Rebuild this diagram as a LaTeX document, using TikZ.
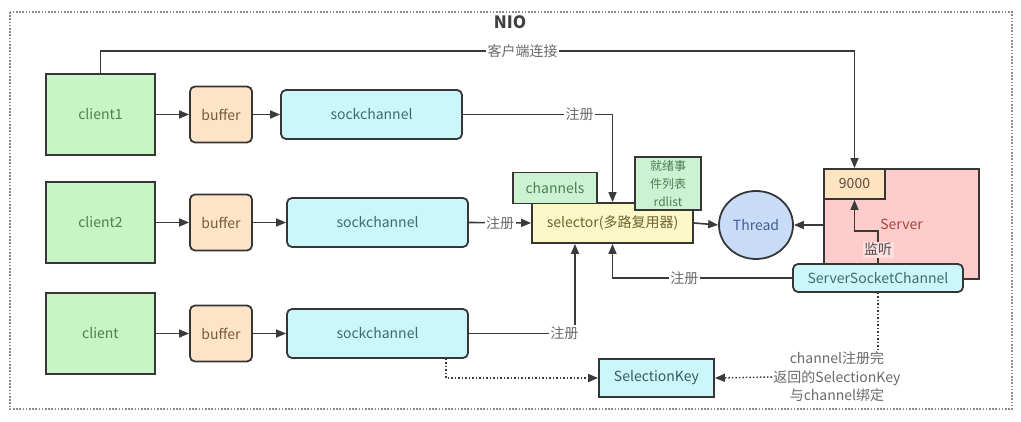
\documentclass[tikz,border=0pt]{standalone}
\usepackage{fontspec}
\setmainfont{Noto Sans CJK SC}
\usetikzlibrary{arrows.meta,shapes.geometric}
\definecolor{boxline}{HTML}{363636}
\definecolor{linec}{HTML}{3A3A3A}
\definecolor{lbltext}{HTML}{6A6A6A}
\definecolor{clientfill}{HTML}{C8F4C6}
\definecolor{clienttext}{HTML}{4E7F4E}
\definecolor{bufferfill}{HTML}{FDE3C8}
\definecolor{buffertext}{HTML}{7A5C3C}
\definecolor{sockfill}{HTML}{CBF7FB}
\definecolor{socktext}{HTML}{3F6A70}
\definecolor{selfill}{HTML}{FDF8C8}
\definecolor{seltext}{HTML}{6B6532}
\definecolor{listfill}{HTML}{CCF2D2}
\definecolor{listtext}{HTML}{4C7F55}
\definecolor{threadfill}{HTML}{C9DCF7}
\definecolor{threadtext}{HTML}{3F5F8F}
\definecolor{serverfill}{HTML}{FFCCCC}
\definecolor{servertext}{HTML}{A0453F}
\definecolor{portfill}{HTML}{FDE3C0}
\definecolor{porttext}{HTML}{5A4A3A}
\definecolor{framec}{HTML}{8A8A8A}

\begin{document}
\begin{tikzpicture}[x=1pt,y=-1pt,
  box/.style={draw=boxline,line width=1.8pt,inner sep=0pt,font=\fontsize{14}{17}\selectfont},
  client/.style={box,fill=clientfill,text=clienttext,minimum width=109pt,minimum height=81pt},
  buffer/.style={box,rounded corners=5pt,fill=bufferfill,text=buffertext,minimum width=62pt,minimum height=56pt},
  sock/.style={box,rounded corners=5pt,fill=sockfill,text=socktext,minimum width=181pt,minimum height=49pt},
  listbox/.style={box,fill=listfill,text=listtext},
  conn/.style={draw=linec,line width=1.6pt,-{Triangle[length=10pt,width=8pt]}},
  dotconn/.style={conn,line width=1.5pt,dash pattern=on 1.5pt off 2pt},
  lbl/.style={fill=white,text=lbltext,inner sep=1.5pt,font=\fontsize{14}{17}\selectfont}]
\useasboundingbox (0,0) rectangle (1021,422);
\draw[framec,line width=1.6pt,dash pattern=on 1.6pt off 1.6pt] (10,12) rectangle (1012,409);
\node[font=\bfseries\fontsize{17}{20}\selectfont,text=black!75] (title) at (510,22) {NIO};

\node[client] (client1) at (100.5,114.5) {client1};
\node[client] (client2) at (100.5,222.5) {client2};
\node[client] (client3) at (100.5,333.5) {client};
\node[buffer] (buf1) at (221,114.5) {buffer};
\node[buffer] (buf2) at (221,222.5) {buffer};
\node[buffer] (buf3) at (221,333.5) {buffer};
\node[sock] (sock1) at (371.5,114.5) {sockchannel};
\node[sock] (sock2) at (377.5,222.5) {sockchannel};
\node[sock] (sock3) at (377.5,333.5) {sockchannel};

\node[box,fill=selfill,text=seltext,minimum width=161pt,minimum height=40pt] (sel) at (612.5,223) {selector(多路复用器)};
\node[listbox,minimum width=84pt,minimum height=31pt] (chans) at (555,188) {channels};
\node[listbox,minimum width=66pt,minimum height=53pt,align=center,font=\fontsize{12}{18}\selectfont] (rdlist) at (668,183.5) {就绪事\\件列表\\rdlist};

\node[box,ellipse,fill=threadfill,text=threadtext,minimum width=74pt,minimum height=68pt] (thread) at (756,225) {Thread};
\node[box,fill=serverfill,text=servertext,minimum width=155pt,minimum height=110pt] (server) at (901.5,224) {Server};
\node[box,fill=portfill,text=porttext,minimum width=61pt,minimum height=30pt] (port) at (854.5,184) {9000};
\node[box,rounded corners=5pt,fill=sockfill,text=socktext,minimum width=170pt,minimum height=28pt] (ssc) at (878,278) {ServerSocketChannel};
\node[box,fill=sockfill,text=socktext!85!black,minimum width=115pt,minimum height=38pt] (key) at (656.5,378) {SelectionKey};
\node[lbl,align=center,font=\fontsize{14}{18.5}\selectfont] (bind) at (837,377) {channel注册完\\返回的SelectionKey\\与channel绑定};

\coordinate (topy) at (0,51);
\coordinate (hook) at (878,231);

\foreach \i in {1,2,3}
  \draw[conn] (client\i) -- (buf\i);
\foreach \i in {1,2,3}
  \draw[conn] (buf\i) -- (sock\i);

\draw[conn] (client1.north) |- (port.north |- topy) node[lbl,pos=0.78] {客户端连接} -- (port.north);
\draw[conn] (sock1.east) -| (sel.north) node[lbl,pos=0.39] {注册};
\draw[conn] (sock2.east) -- (sel.west) node[lbl,midway] {注册};
\draw[conn] (sock3.east) -| ([xshift=-37.5pt]sel.south) node[lbl,pos=0.45] {注册};
\draw[conn] (ssc.west) -| (sel.south) node[lbl,pos=0.3] {注册};
\draw[conn] (sel.east) -- (thread.west);
\draw[conn] (server.west |- thread.east) -- (thread.east);
\draw[conn] (ssc.north) -- (hook) node[lbl,fill=serverfill!60!white,text=black!70,pos=0.42] {监听} -| (port.south);
\draw[dotconn] ([xshift=68.5pt]sock3.south) |- (key.west);
\draw[dotconn,-] (ssc.south) -- (ssc.south |- bind.north);
\draw[dotconn] (bind.west) -- (key.east);
\end{tikzpicture}
\end{document}
